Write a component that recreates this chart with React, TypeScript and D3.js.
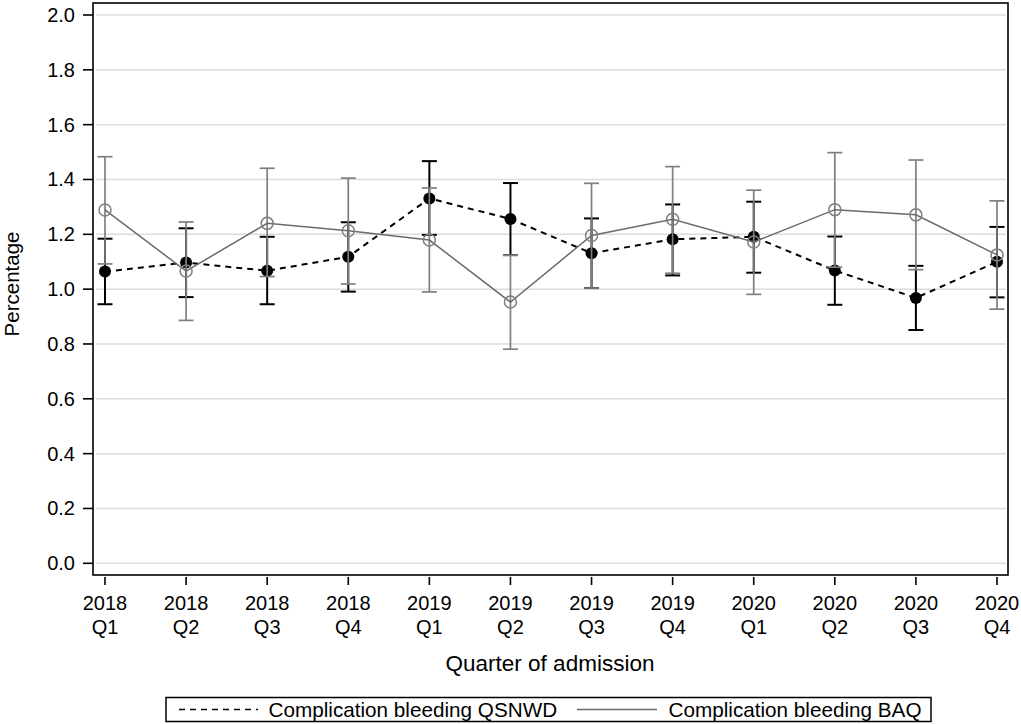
import React from "react";
import * as d3 from "d3";

const years = ["2018", "2018", "2018", "2018", "2019", "2019", "2019", "2019", "2020", "2020", "2020", "2020"];
const quarters = ["Q1", "Q2", "Q3", "Q4", "Q1", "Q2", "Q3", "Q4", "Q1", "Q2", "Q3", "Q4"];
const categories = years.map((y, i) => `${y} ${quarters[i]}`);

const qsnwd = [1.064, 1.097, 1.067, 1.118, 1.331, 1.256, 1.131, 1.182, 1.191, 1.068, 0.968, 1.100];
const qsnwdLo = [0.945, 0.971, 0.945, 0.991, 1.198, 1.124, 1.004, 1.050, 1.060, 0.943, 0.851, 0.970];
const qsnwdHi = [1.184, 1.222, 1.191, 1.244, 1.467, 1.387, 1.258, 1.309, 1.319, 1.192, 1.085, 1.227];

const baq = [1.289, 1.066, 1.240, 1.213, 1.179, 0.953, 1.196, 1.255, 1.172, 1.290, 1.271, 1.125];
const baqLo = [1.092, 0.886, 1.046, 1.019, 0.990, 0.781, 1.004, 1.058, 0.981, 1.080, 1.071, 0.927];
const baqHi = [1.483, 1.245, 1.441, 1.405, 1.369, 1.124, 1.386, 1.447, 1.361, 1.498, 1.471, 1.322];

const yTicks = [0, 0.2, 0.4, 0.6, 0.8, 1.0, 1.2, 1.4, 1.6, 1.8, 2.0];

const seriesNames = ["Complication bleeding QSNWD", "Complication bleeding BAQ"];

const W = 1021;
const H = 724;
const frame = { left: 93, top: 3, right: 1008, bottom: 575 };
const FONT = "'Liberation Sans', Arial, sans-serif";
const GRAY = "#7f7f7f";
const LINEGRAY = "#6a6a6a";

export default function App() {
  const x = d3.scalePoint<string>().domain(categories).range([105, 997]);
  const y = d3.scaleLinear().domain([0, 2]).range([563.3, 15]);

  const lineGen = d3
    .line<number>()
    .x((_, i) => x(categories[i]) as number)
    .y((d) => y(d));

  const cap = 7.5;

  const errorBars = (lo: number[], hi: number[], color: string, sw: number, key: string) =>
    categories.map((c, i) => {
      const cx = x(c) as number;
      return (
        <g key={key + i} stroke={color} strokeWidth={sw} fill="none">
          <line x1={cx} x2={cx} y1={y(lo[i])} y2={y(hi[i])} />
          <line x1={cx - cap} x2={cx + cap} y1={y(lo[i])} y2={y(lo[i])} />
          <line x1={cx - cap} x2={cx + cap} y1={y(hi[i])} y2={y(hi[i])} />
        </g>
      );
    });

  return (
    <div style={{ position: "absolute", left: 0, top: 0 }}>
      <svg width={W} height={H} style={{ display: "block", background: "#fff" }} fontFamily={FONT}>
        <rect x={0} y={0} width={W} height={H} fill="#fff" />
        {/* gridlines */}
        {yTicks.map((t) => (
          <line key={"g" + t} x1={96} x2={1006} y1={y(t)} y2={y(t)} stroke="#dcdcdc" strokeWidth={1.5} />
        ))}

        {/* QSNWD series */}
        {errorBars(qsnwdLo, qsnwdHi, "#000", 2, "qe")}
        <path d={lineGen(qsnwd) || ""} fill="none" stroke="#000" strokeWidth={2} strokeDasharray="6,5" />
        {qsnwd.map((v, i) => (
          <circle key={"qd" + i} cx={x(categories[i]) as number} cy={y(v)} r={6} fill="#000" />
        ))}

        {/* BAQ series */}
        {errorBars(baqLo, baqHi, GRAY, 1.7, "be")}
        <path d={lineGen(baq) || ""} fill="none" stroke={LINEGRAY} strokeWidth={1.5} />
        {baq.map((v, i) => (
          <circle key={"bd" + i} cx={x(categories[i]) as number} cy={y(v)} r={6} fill="none" stroke={GRAY} strokeWidth={1.5} />
        ))}

        {/* frame */}
        <rect
          x={frame.left}
          y={frame.top}
          width={frame.right - frame.left}
          height={frame.bottom - frame.top}
          fill="none"
          stroke="#000"
          strokeWidth={1.6}
        />

        {/* y axis ticks */}
        {yTicks.map((t) => (
          <g key={"yt" + t}>
            <line x1={83} x2={frame.left} y1={y(t)} y2={y(t)} stroke="#000" strokeWidth={1.6} />
            <text x={75} y={y(t) + 7} textAnchor="end" fontSize={20} fill="#000">
              {t.toFixed(1)}
            </text>
          </g>
        ))}

        {/* x axis ticks */}
        {categories.map((c, i) => {
          const cx = x(c) as number;
          return (
            <g key={"xt" + i}>
              <line x1={cx} x2={cx} y1={577} y2={585} stroke="#000" strokeWidth={1.6} />
              <text x={cx} y={610} textAnchor="middle" fontSize={20} fill="#000">
                {years[i]}
              </text>
              <text x={cx} y={634} textAnchor="middle" fontSize={20} fill="#000">
                {quarters[i]}
              </text>
            </g>
          );
        })}

        {/* axis titles */}
        <text x={550} y={671} textAnchor="middle" fontSize={22.5} fill="#000">
          Quarter of admission
        </text>
        <text transform="translate(18.5,284) rotate(-90)" textAnchor="middle" fontSize={20.5} fill="#000">
          Percentage
        </text>

        {/* legend */}
        <rect x={166} y={697.5} width={765} height={24} fill="none" stroke="#000" strokeWidth={1.5} />
        <line x1={179} x2={258} y1={709.5} y2={709.5} stroke="#000" strokeWidth={1.5} strokeDasharray="6,5" />
        <text x={268.5} y={716.5} fontSize={20.7} fill="#000">
          {seriesNames[0]}
        </text>
        <line x1={577} x2={657} y1={709.5} y2={709.5} stroke={LINEGRAY} strokeWidth={1.5} />
        <text x={668.5} y={716.5} fontSize={20.7} fill="#000">
          {seriesNames[1]}
        </text>
      </svg>
    </div>
  );
}
